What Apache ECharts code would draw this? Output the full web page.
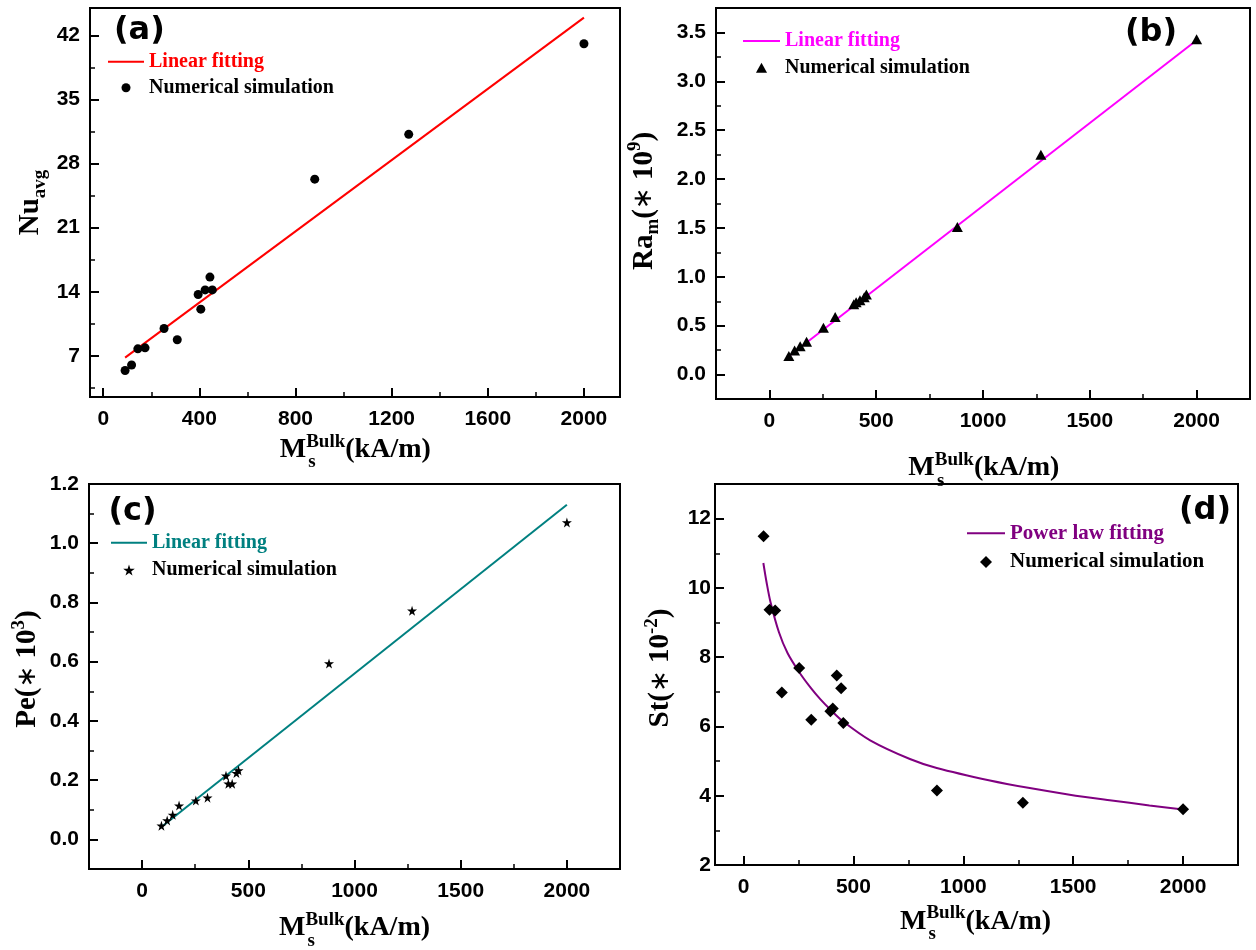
<!DOCTYPE html>
<html>
<head>
<meta charset="utf-8">
<script src="https://cdn.jsdelivr.net/npm/echarts@6/dist/echarts.min.js"></script>
<style>
html,body{margin:0;padding:0;background:#fff;}
#chart{width:1256px;height:950px;}
</style>
</head>
<body>
<div id="chart"></div>
<script>
// ---------------- data ----------------
const msBulk = [91, 118, 144, 174, 253, 308, 395, 406, 424, 444, 454, 880, 1271, 2000];
const nuAvg  = [5.4, 6.0, 7.76, 7.87, 9.98, 8.75, 13.7, 12.1, 14.2, 15.6, 14.2, 26.3, 31.2, 41.1];
const raM    = [0.19, 0.245, 0.29, 0.335, 0.48, 0.59, 0.72, 0.74, 0.76, 0.79, 0.82, 1.51, 2.25, 3.43];
const peVal  = [0.046, 0.064, 0.083, 0.114, 0.131, 0.141, 0.215, 0.188, 0.188, 0.224, 0.233, 0.594, 0.772, 1.07];
const stVal  = [11.49, 9.37, 9.35, 6.98, 7.69, 6.19, 6.44, 6.52, 7.47, 7.10, 6.10, 4.15, 3.80, 3.61];

const nuFitX = [91, 2000];
const nuFitY = [6.8, 43.95];
const raFitX = [93, 2000];
const raFitY = [0.19, 3.42];
const peFitX = [91, 2000];
const peFitY = [0.042, 1.13];
const stFitX = [90, 105, 123, 161, 200, 252, 305, 350, 396, 452, 576, 757, 879, 1121, 1302, 1484, 1666, 1847, 2000];
const stFitY = [10.72, 10.15, 9.58, 8.72, 8.12, 7.58, 7.12, 6.78, 6.48, 6.15, 5.6, 5.06, 4.8, 4.44, 4.22, 4.03, 3.87, 3.72, 3.6];

// tick labels
const xTicksA = [0, 400, 800, 1200, 1600, 2000];
const xMinorA = [200, 600, 1000, 1400, 1800];
const yTicksA = [7, 14, 21, 28, 35, 42];
const yMinorA = [3.5, 10.5, 17.5, 24.5, 31.5, 38.5];
const xTicksB = [0, 500, 1000, 1500, 2000];
const xMinorB = [250, 750, 1250, 1750];
const yTicksB = [0, 0.5, 1.0, 1.5, 2.0, 2.5, 3.0, 3.5];
const yMinorB = [0.25, 0.75, 1.25, 1.75, 2.25, 2.75, 3.25];
const yTicksC = [0, 0.2, 0.4, 0.6, 0.8, 1.0, 1.2];
const yMinorC = [0.1, 0.3, 0.5, 0.7, 0.9, 1.1];
const yTicksD = [2, 4, 6, 8, 10, 12];
const yMinorD = [3, 5, 7, 9, 11];

// legend labels
const fitLabel = 'Linear fitting';
const powLabel = 'Power law fitting';
const simLabel = 'Numerical simulation';
const panelLabels = ['(a)', '(b)', '(c)', '(d)'];

// ---------------- helpers ----------------
const pairs = (xs, ys) => xs.map((x, i) => [x, ys[i]]);
const SERIF = 'Liberation Serif';
const SANS = 'Liberation Sans';

function axes(dim, gi, min, max, majors, minors, fmt, margin) {
  const pos = dim === 'x' ? 'bottom' : 'left';
  return [
    {
      type: 'value', gridIndex: gi, min: min, max: max, position: pos,
      axisLine: {show: true, onZero: false, lineStyle: {color: '#000', width: 2}},
      axisTick: {show: true, inside: true, length: 9, customValues: majors, lineStyle: {color: '#000', width: 2}},
      axisLabel: {show: true, customValues: majors, formatter: fmt, margin: margin, color: '#000',
                  fontFamily: SANS, fontWeight: 'bold', fontSize: 21},
      splitLine: {show: false}
    },
    {
      type: 'value', gridIndex: gi, min: min, max: max, position: pos,
      axisLine: {show: false, onZero: false},
      axisTick: {show: true, inside: true, length: 5, customValues: minors, lineStyle: {color: '#000', width: 1.5}},
      axisLabel: {show: false},
      splitLine: {show: false}
    }
  ];
}
const fInt = v => String(Math.round(v));
const f1 = v => v.toFixed(1);

const grids = [
  {left: 90, top: 8, width: 530, height: 389},
  {left: 716, top: 8, width: 534, height: 391},
  {left: 89, top: 484, width: 531, height: 385},
  {left: 715, top: 484, width: 523, height: 381}
].map(g => Object.assign(g, {show: true, borderColor: '#000', borderWidth: 2, backgroundColor: 'transparent', containLabel: false}));

const xAxes = [].concat(
  axes('x', 0, -55, 2150, xTicksA, xMinorA, fInt, 12),
  axes('x', 1, -250, 2250, xTicksB, xMinorB, fInt, 12),
  axes('x', 2, -250, 2250, xTicksB, xMinorB, fInt, 12),
  axes('x', 3, -130, 2250, xTicksB, xMinorB, fInt, 12)
);
const yAxes = [].concat(
  axes('y', 0, 2.5, 45, yTicksA, yMinorA, fInt, 10),
  axes('y', 1, -0.25, 3.75, yTicksB, yMinorB, f1, 10),
  axes('y', 2, -0.1, 1.2, yTicksC, yMinorC, f1, 10),
  axes('y', 3, 2, 13, yTicksD, yMinorD, fInt, 4)
);

const colors = ['#ff0000', '#ff00ff', '#008080', '#800080'];
const starPath = 'path://M50,0 L61,35 L98,35 L68,57 L79,91 L50,70 L21,91 L32,57 L2,35 L39,35 Z';
const triPath = 'path://M5,0 L10,9 L0,9 Z';
const diaPath = 'path://M5,0 L10,5 L5,10 L0,5 Z';
const symbols = ['circle', triPath, starPath, diaPath];
const symSizes = [9, [11, 10], 10, 12];
const fitNames = [fitLabel + ' (a)', fitLabel + ' (b)', fitLabel + ' (c)', powLabel + ' (d)'];
const simNames = [simLabel + ' (a)', simLabel + ' (b)', simLabel + ' (c)', simLabel + ' (d)'];
const fitData = [pairs(nuFitX, nuFitY), pairs(raFitX, raFitY), pairs(peFitX, peFitY), pairs(stFitX, stFitY)];
const simData = [pairs(msBulk, nuAvg), pairs(msBulk, raM), pairs(msBulk, peVal), pairs(msBulk, stVal)];

const series = [];
for (let i = 0; i < 4; i++) {
  series.push({
    name: fitNames[i], type: 'line', xAxisIndex: 2 * i, yAxisIndex: 2 * i,
    data: fitData[i], symbol: 'none', showSymbol: false,
    smooth: i === 3 ? 0.3 : false,
    lineStyle: {color: colors[i], width: 2}, itemStyle: {color: colors[i]}, z: 2
  });
  series.push({
    name: simNames[i], type: 'scatter', xAxisIndex: 2 * i, yAxisIndex: 2 * i,
    data: simData[i], symbol: symbols[i], symbolSize: symSizes[i],
    itemStyle: {color: '#000', opacity: 1}, z: 3
  });
}

const legendPos = [
  {left: 108, top: 51.7, gap: 6, w: 36, h: 9, fs: 20},
  {left: 743, top: 31, gap: 6.7, w: 37, h: 10, fs: 20},
  {left: 111, top: 532.7, gap: 7.3, w: 36, h: 11, fs: 20},
  {left: 967, top: 522.8, gap: 7.7, w: 38, h: 12, fs: 21}
];
const legends = legendPos.map((p, i) => ({
  orient: 'vertical', left: p.left, top: p.top, padding: 0, itemGap: p.gap,
  itemWidth: p.w, itemHeight: p.h, selectedMode: false, symbolKeepAspect: true,
  formatter: n => n.replace(/ \([a-d]\)$/, ''),
  textStyle: {fontFamily: SERIF, fontWeight: 'bold', fontSize: p.fs, lineHeight: p.fs, color: '#000'},
  data: [
    {name: fitNames[i], icon: 'path://M0,0 H' + p.w + ' V2 H0 Z', itemStyle: {color: colors[i]}, textStyle: {color: colors[i]}},
    {name: simNames[i], textStyle: {color: '#000'}}
  ]
}));

// ---------------- titles ----------------
const big = 28, small = 19;
const richX = {
  m: {fontFamily: SERIF, fontWeight: 'bold', fontSize: big, lineHeight: 40, color: '#000'},
  sup: {fontFamily: SERIF, fontWeight: 'bold', fontSize: small, verticalAlign: 'top', height: 24, color: '#000'}
};
const richY = {
  m: {fontFamily: SERIF, fontWeight: 'bold', fontSize: 29, lineHeight: 40, color: '#000'},
  ast: {fontFamily: 'DejaVu Sans', fontWeight: 'normal', fontSize: 26, color: '#000'},
  sub: {fontFamily: SERIF, fontWeight: 'bold', fontSize: small, verticalAlign: 'bottom', height: 22, color: '#000'},
  sup: {fontFamily: SERIF, fontWeight: 'bold', fontSize: small, verticalAlign: 'top', height: 22, color: '#000'}
};
const xTitleText = '{m|M}{sup|Bulk}{m|(kA/m)}';
const xTitlePos = [[355.3, 449.8], [983.9, 468.2], [354.5, 928.2], [975.5, 921.5]];
const yTitleTexts = [
  '{m|Nu}{sub|avg}',
  '{m|Ra}{sub|m}{m|(}{ast|∗}{m| 10}{sup|9}{m|)}',
  '{m|Pe(}{ast|∗}{m| 10}{sup|3}{m|)}',
  '{m|St(}{ast|∗}{m| 10}{sup|-2}{m|)}'
];
const yTitlePos = [[30.6, 202.5], [644.5, 201], [28, 669], [661, 668]];
const panelLabelPos = [[139.4, 31], [1151, 32.5], [132.6, 511.7], [1205, 510.5]];

const graphics = [];
for (let i = 0; i < 4; i++) {
  graphics.push({
    type: 'text', x: xTitlePos[i][0], y: xTitlePos[i][1], z: 100,
    style: {text: xTitleText, rich: richX, align: 'center', verticalAlign: 'middle'}
  });
  graphics.push({
    type: 'text', x: xTitlePos[i][0] - 47, y: xTitlePos[i][1] + 12.7, z: 100,
    style: {text: 's', fontFamily: SERIF, fontWeight: 'bold', fontSize: small, fill: '#000', align: 'left', verticalAlign: 'middle'}
  });
  graphics.push({
    type: 'text', x: yTitlePos[i][0], y: yTitlePos[i][1], rotation: Math.PI / 2, z: 100,
    style: {text: yTitleTexts[i], rich: richY, align: 'center', verticalAlign: 'middle'}
  });
  graphics.push({
    type: 'text', x: panelLabelPos[i][0], y: panelLabelPos[i][1], z: 100,
    style: {text: panelLabels[i], fontFamily: 'DejaVu Sans', fontWeight: 'bold', fontSize: 32, fill: '#000', align: 'center', verticalAlign: 'middle'}
  });
}

const chart = echarts.init(document.getElementById('chart'), null, {renderer: 'canvas'});
chart.setOption({
  animation: false,
  backgroundColor: '#fff',
  grid: grids,
  xAxis: xAxes,
  yAxis: yAxes,
  legend: legends,
  series: series,
  graphic: graphics
});
</script>
</body>
</html>
